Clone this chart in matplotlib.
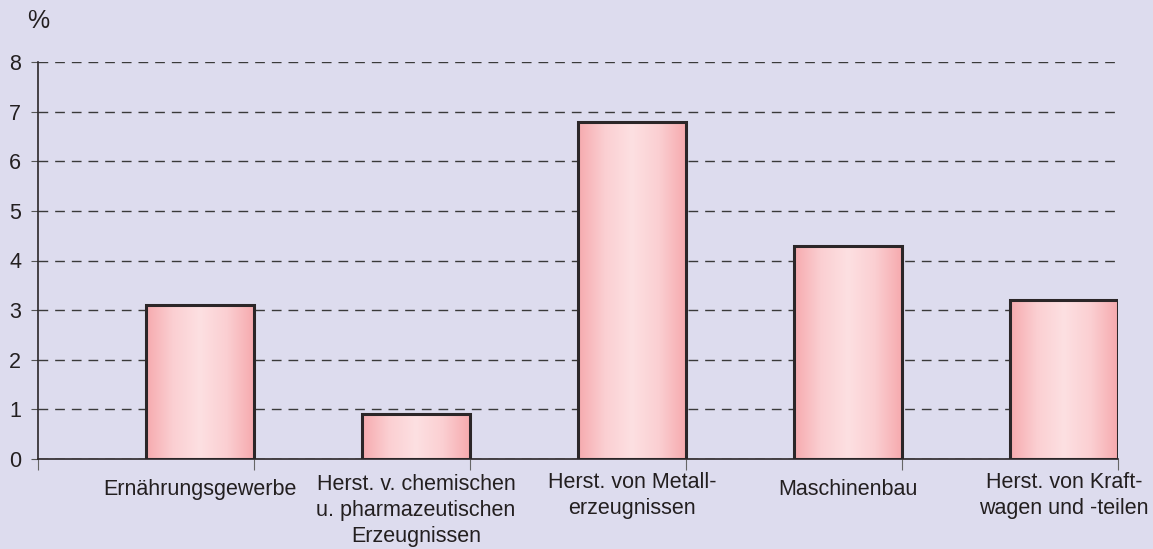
import numpy as np
import matplotlib.pyplot as plt
from matplotlib.colors import LinearSegmentedColormap
from matplotlib.transforms import blended_transform_factory

categories = [
    "Ernährungsgewerbe",
    "Herst. v. chemischen\nu. pharmazeutischen\nErzeugnissen",
    "Herst. von Metall-\nerzeugnissen",
    "Maschinenbau",
    "Herst. von Kraft-\nwagen und -teilen",
]
values = [3.1, 0.9, 6.8, 4.3, 3.2]
yticks = [0, 1, 2, 3, 4, 5, 6, 7, 8]

bg = "#dddcee"
txt = "#231f20"
plt.rcParams["font.family"] = ["Liberation Sans", "DejaVu Sans"]

fig = plt.figure(figsize=(11.53, 5.49), dpi=100, facecolor=bg)
W, H = 1153, 549
ax = fig.add_axes([38 / W, (H - 459) / H, (1118 - 38) / W, (459 - 62) / H])
ax.set_facecolor(bg)

# pink gradient across each bar, pale in the middle
grad = LinearSegmentedColormap.from_list("pinkbar", ["#f6aaae", "#fbcfd2", "#fde0e2", "#fbcfd2", "#f6aaae"])
g = np.linspace(0, 1, 256).reshape(1, -1)

x = np.arange(len(values))
bw = 0.5
for xi, v in zip(x, values):
    x0 = xi + 0.25 - bw / 2
    ax.imshow(g, cmap=grad, extent=(x0, x0 + bw, 0, v), aspect="auto", zorder=2, interpolation="bicubic")
ax.bar(x + 0.25, values, width=bw, facecolor="none", edgecolor="#2b2628", linewidth=2.2, zorder=3)

ax.set_xlim(-0.5, 4.5)
ax.set_ylim(0, 8)
ax.set_yticks(yticks)
ax.grid(axis="y", color="#3a3a3a", linestyle=(0, (7, 5)), linewidth=1, zorder=1)
ax.set_axisbelow(True)

for s in ["top", "right"]:
    ax.spines[s].set_visible(False)
for s in ["left", "bottom"]:
    ax.spines[s].set_color("#2b2628")
    ax.spines[s].set_linewidth(1.2)

ax.set_xticks(np.arange(-0.5, 5, 1.0))
ax.set_xticklabels([])
ax.tick_params(axis="x", direction="out", length=8, color="#666666")
ax.tick_params(axis="y", direction="out", length=5, color="#555555", labelsize=15.5, labelcolor=txt, pad=7)

# last-line baseline (pixels from top) by number of lines
label_base = {1: 495, 2: 514, 3: 542}
tr = blended_transform_factory(ax.transData, fig.transFigure)
for xi, lab in zip(x, categories):
    n = lab.count("\n") + 1
    ax.text(xi + 0.25, 1 - label_base[n] / H, lab, ha="center", va="baseline", fontsize=15.5,
            color=txt, transform=tr, linespacing=1.3, multialignment="center", clip_on=False)

fig.text(38 / W, 1 - 28 / H, "%", ha="center", va="baseline", fontsize=18, color=txt)

fig.savefig("out.png", dpi=100, facecolor=bg)
